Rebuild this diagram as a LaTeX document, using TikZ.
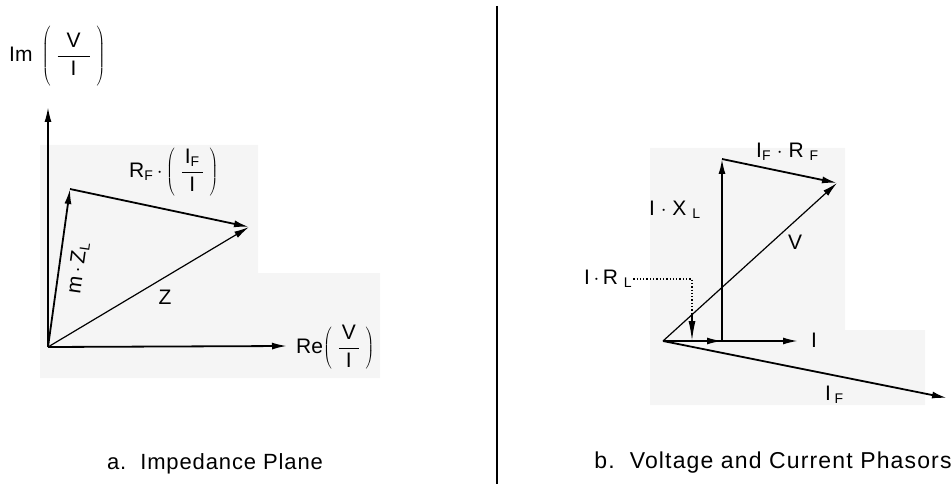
\documentclass[tikz,border=0pt]{standalone}
\usepackage{fontspec}
\setmainfont{Liberation Sans}
\usetikzlibrary{arrows.meta, positioning}

% fraction of two texts in tall round brackets
\newcommand{\pfrac}[3]{\left(\vcenter{\hbox{\rule{0pt}{#1}}}\;\frac{\mbox{\hspace{3pt}#2\hspace{3pt}}}{\mbox{#3}}\;\right)}
\newcommand{\subtxt}[1]{$_{\mbox{\fontsize{14}{16}\selectfont #1}}$}

\begin{document}
\begin{tikzpicture}[x=1pt,y=-1pt,
    vec/.style={line width=1.8pt,-{Latex[length=15pt,width=7pt]}},
    thinvec/.style={line width=1.2pt,-{Latex[length=15pt,width=7pt]}},
    lbl/.style={font=\fontsize{21}{24}\selectfont,inner sep=1pt},
    capt/.style={font=\fontsize{22}{26}\selectfont\addfontfeature{LetterSpace=4}},
    scan/.style={fill=black!4}]
\useasboundingbox (0,0) rectangle (951,484);

% light scan shading
\fill[scan] (40,145) -- (258,145) -- (258,273) -- (380,273) -- (380,378) -- (40,378) -- cycle;
\fill[scan] (650,148) -- (845,148) -- (845,330) -- (925,330) -- (925,405) -- (650,405) -- cycle;

% a. impedance plane
\coordinate (O) at (48,347);
\coordinate (imtip) at (48,107);
\coordinate (retip) at (287,346);
\coordinate (A) at (70,189);
\coordinate (B) at (249,227);

\draw[vec] (O) -- (imtip);
\draw[vec] (O) -- (retip);
\draw[vec] (O) -- (A);
\draw[vec] (A) -- (B);
\draw[thinvec] (O) -- (B);

\node[lbl, anchor=west] (imlbl) at (8,56) {Im\;\,$\displaystyle\pfrac{62pt}{\hspace{6pt}V\hspace{6pt}}{I}$};
\node[lbl, anchor=west] (relbl) at (295,348) {Re$\displaystyle\pfrac{46pt}{V}{I}$};
\node[lbl, anchor=west] (rflbl) at (128,172) {R\subtxt{F}\,$\cdot$\,$\displaystyle\pfrac{48pt}{I\subtxt{F}}{I}$};
\node[lbl, rotate=82] (zllbl) at (78,268) {m\,$\cdot$\,Z\subtxt{L}};
\node[lbl] (zlbl) at (165,297) {Z};

% b. voltage and current phasors
\coordinate (O2) at (663,341);
\coordinate (Itip) at (798,341);
\coordinate (IFtip) at (947,398);
\coordinate (P) at (722,341);
\coordinate (Q) at (722,159);
\coordinate (Vtip) at (837,183);
\coordinate (RLtop) at (692,314);
\coordinate (RLbot) at (692,341);
\coordinate (RLc) at (692,279);

\draw[vec] (O2) -- (Itip);
\draw[vec] (O2) -- (IFtip);
\draw[vec] (O2) -- (P);
\draw[vec] (P) -- (Q);
\draw[vec] (Q) -- (Vtip);
\draw[thinvec] (O2) -- (Vtip);
\draw[line width=1.5pt,-{Latex[length=20pt,width=7pt]}] (RLtop) -- (RLbot);

\node[lbl, anchor=west] (ifrflbl) at (755,152) {I\subtxt{F}\;$\cdot$\;R\;\subtxt{F}};
\node[lbl, anchor=west] (ixllbl) at (648,210) {I\;$\cdot$\;X\;\subtxt{L}};
\node[lbl] (vlbl) at (795,242) {V};
\node[lbl, anchor=west] (irllbl) at (583,279) {I\,$\cdot$\,R\;\subtxt{L}};
\node[lbl] (ilbl) at (814,340) {I};
\node[lbl, anchor=west] (iflbl) at (824,395) {I\,\subtxt{F}};

\draw[dotted, line width=1.3pt] (irllbl.east) -- (RLc) -- (RLtop);

% divider and captions
\coordinate (divtop) at (497,6);
\coordinate (divbot) at (497,484);
\draw[line width=1.2pt] (divtop) -- (divbot);

\node[capt] (capa) at (215,464) {a.\ \ Impedance Plane};
\node[capt, font=\fontsize{23}{27}\selectfont\addfontfeature{LetterSpace=5}] (capb) at (773,463) {b.\ \ Voltage and Current Phasors};
\end{tikzpicture}
\end{document}
